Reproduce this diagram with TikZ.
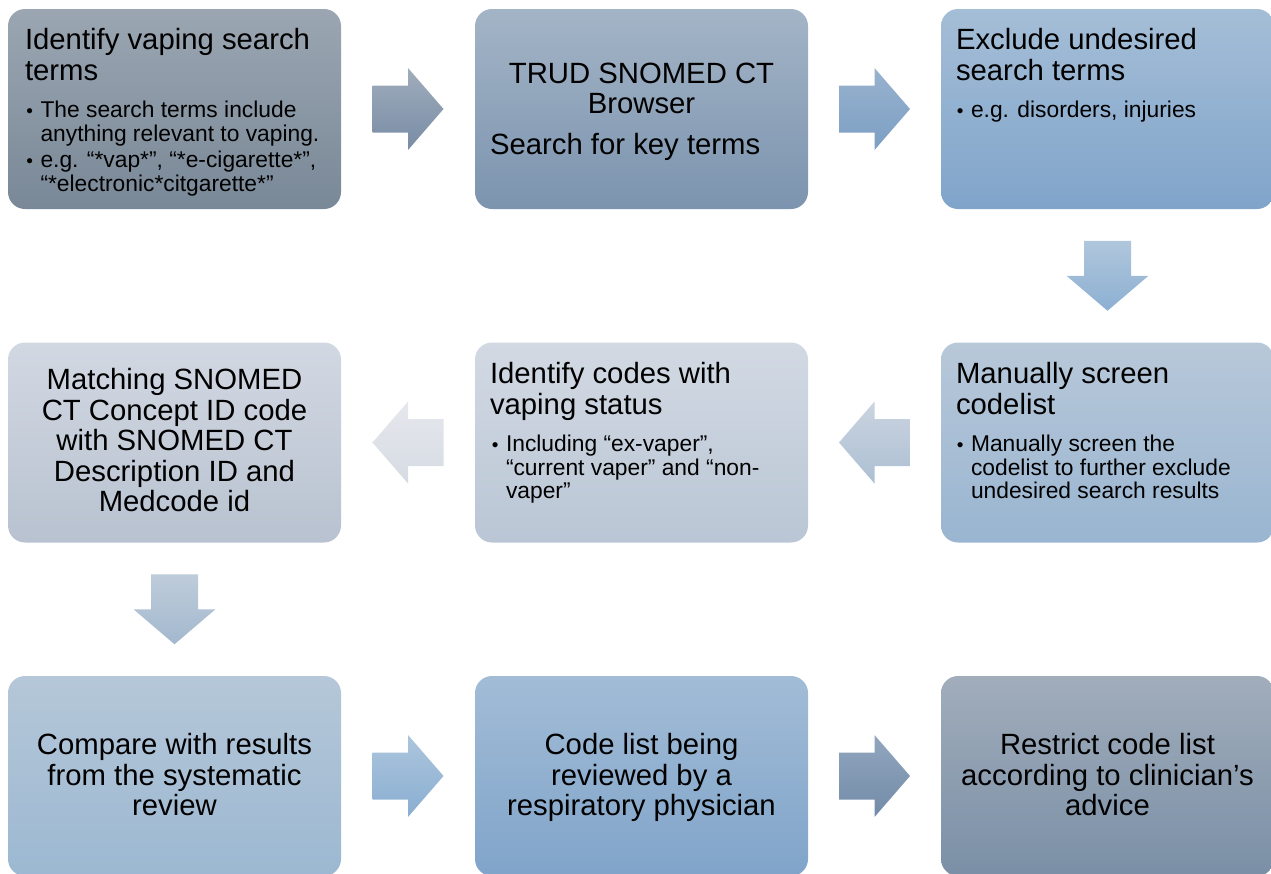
\documentclass[tikz,border=0pt]{standalone}
\usepackage{fontspec}
\setmainfont{Liberation Sans}
\usetikzlibrary{calc}
\newcommand\TLft[1]{\vtop{\lineskiplimit -100pt\relax\halign{##\hfil\cr#1\crcr}}}
\newcommand\TCtr[1]{\vtop{\lineskiplimit -100pt\relax\halign{\hfil##\hfil\cr#1\crcr}}}
\newcommand\bul{\llap{{\fontsize{19}{19}\selectfont\textbullet}\hspace{7.5pt}}}
\newcommand\FTitle{\fontsize{29.3}{30.4}\selectfont}
\newcommand\FBul{\fontsize{22.8}{23.5}\selectfont}
% box colours
\definecolor{b1t}{RGB}{155,166,178}\definecolor{b1b}{RGB}{121,136,151}
\definecolor{b2t}{RGB}{163,180,198}\definecolor{b2b}{RGB}{124,148,175}
\definecolor{b3t}{RGB}{165,190,215}\definecolor{b3b}{RGB}{128,164,202}
\definecolor{b4t}{RGB}{210,216,226}\definecolor{b4b}{RGB}{184,194,208}
\definecolor{b5t}{RGB}{210,217,227}\definecolor{b5b}{RGB}{186,198,213}
\definecolor{b6t}{RGB}{184,200,217}\definecolor{b6b}{RGB}{153,181,209}
\definecolor{b7t}{RGB}{181,199,216}\definecolor{b7b}{RGB}{156,184,210}
\definecolor{b8t}{RGB}{162,188,214}\definecolor{b8b}{RGB}{128,164,202}
\definecolor{b9t}{RGB}{161,173,187}\definecolor{b9b}{RGB}{122,143,166}
% arrow colours
\definecolor{a1t}{RGB}{160,173,188}\definecolor{a1b}{RGB}{120,140,165}
\definecolor{a2t}{RGB}{152,178,206}\definecolor{a2b}{RGB}{124,159,195}
\definecolor{a3t}{RGB}{176,198,220}\definecolor{a3b}{RGB}{140,176,210}
\definecolor{a4t}{RGB}{203,212,224}\definecolor{a4b}{RGB}{172,191,211}
\definecolor{a5t}{RGB}{229,232,237}\definecolor{a5b}{RGB}{214,219,227}
\definecolor{a6t}{RGB}{190,204,218}\definecolor{a6b}{RGB}{163,184,206}
\definecolor{a7t}{RGB}{172,197,221}\definecolor{a7b}{RGB}{138,174,209}
\definecolor{a8t}{RGB}{146,166,190}\definecolor{a8b}{RGB}{114,139,168}
\newcommand\ArrR[3]{\shade[top color=#2,bottom color=#3,shift={(#1)}]
  (-35.5,-23.5) -- (0,-23.5) -- (0,-41) -- (35.5,0) -- (0,41) -- (0,23.5) -- (-35.5,23.5) -- cycle;}
\newcommand\ArrL[3]{\shade[top color=#2,bottom color=#3,shift={(#1)}]
  (35.5,-23.5) -- (0,-23.5) -- (0,-41) -- (-35.5,0) -- (0,41) -- (0,23.5) -- (35.5,23.5) -- cycle;}
\newcommand\ArrD[3]{\shade[top color=#2,bottom color=#3,shift={(#1)}]
  (-23.5,-35) -- (23.5,-35) -- (23.5,0) -- (41,0) -- (0,35) -- (-41,0) -- (-23.5,0) -- cycle;}
\begin{document}
\begin{tikzpicture}[x=1pt,y=-1pt,
  box/.style={rectangle, rounded corners=17pt, minimum width=333pt, minimum height=200pt, inner sep=0pt, draw=none},
  ttl/.style={font=\FTitle, inner sep=0pt, anchor=base west},
  ctr/.style={font=\FTitle, inner sep=0pt, anchor=base},
  bl/.style={font=\FBul, inner sep=0pt, anchor=base west}]
\useasboundingbox (0,0) rectangle (1271,873);
\clip (0,0) rectangle (1271,873);
% boxes
\node[box, top color=b1t, bottom color=b1b] (b1) at (174.5,109) {};
\node[box, top color=b2t, bottom color=b2b] (b2) at (641.5,109) {};
\node[box, top color=b3t, bottom color=b3b] (b3) at (1107.5,109) {};
\node[box, top color=b4t, bottom color=b4b] (b4) at (174.5,442.5) {};
\node[box, top color=b5t, bottom color=b5b] (b5) at (641.5,442.5) {};
\node[box, top color=b6t, bottom color=b6b] (b6) at (1107.5,442.5) {};
\node[box, top color=b7t, bottom color=b7b] (b7) at (174.5,776) {};
\node[box, top color=b8t, bottom color=b8b] (b8) at (641.5,776) {};
\node[box, top color=b9t, bottom color=b9b] (b9) at (1107.5,776) {};
% arrows
\coordinate (a12) at ($(b1.east)!0.5!(b2.west)$);
\coordinate (a23) at ($(b2.east)!0.5!(b3.west)$);
\coordinate (a36) at ($(b3.south)!0.5!(b6.north)$);
\coordinate (a65) at ($(b6.west)!0.5!(b5.east)$);
\coordinate (a54) at ($(b5.west)!0.5!(b4.east)$);
\coordinate (a47) at ($(b4.south)!0.5!(b7.north)$);
\coordinate (a78) at ($(b7.east)!0.5!(b8.west)$);
\coordinate (a89) at ($(b8.east)!0.5!(b9.west)$);
\ArrR{a12}{a1t}{a1b}
\ArrR{a23}{a2t}{a2b}
\ArrD{a36}{a3t}{a3b}
\ArrL{a65}{a4t}{a4b}
\ArrL{a54}{a5t}{a5b}
\ArrD{a47}{a6t}{a6b}
\ArrR{a78}{a7t}{a7b}
\ArrR{a89}{a8t}{a8b}
% box 1
\node[ttl] (t1) at ($(b1.north west)+(17,41)$) {\TLft{Identify vaping search\cr terms}};
\node[bl] (t1a) at ($(b1.north west)+(32.5,109)$) {\TLft{\bul The search terms include\cr anything relevant to vaping.}};
\node[bl] (t1b) at ($(b1.north west)+(32.5,159)$) {\TLft{\bul e.g. “*vap*”, “*e-cigarette*”,\cr “*electronic*citgarette*”}};
% box 2
\node[ctr] (t2) at ($(b2.north)+(0,74.3)$) {\TCtr{TRUD SNOMED CT\cr Browser}};
\node[ttl] (t2a) at ($(b2.north west)+(15,146)$) {Search for key terms};
% box 3
\node[ttl] (t3) at ($(b3.north west)+(15,41)$) {\TLft{Exclude undesired\cr search terms}};
\node[bl] (t3a) at ($(b3.north west)+(30,109)$) {\TLft{\bul e.g. disorders, injuries}};
% box 4
\node[ctr] (t4) at ($(b4.north)+(0,47.5)$) {\TCtr{Matching SNOMED\cr CT Concept ID code\cr with SNOMED CT\cr Description ID and\cr Medcode id}};
% box 5
\node[ttl] (t5) at ($(b5.north west)+(15,41.5)$) {\TLft{Identify codes with\cr vaping status}};
\node[bl] (t5a) at ($(b5.north west)+(31,109.5)$) {\TLft{\bul Including “ex-vaper”,\cr “current vaper” and “non-\cr vaper”}};
% box 6
\node[ttl] (t6) at ($(b6.north west)+(15,41.5)$) {\TLft{Manually screen\cr codelist}};
\node[bl] (t6a) at ($(b6.north west)+(30,109.5)$) {\TLft{\bul Manually screen the\cr codelist to further exclude\cr undesired search results}};
% row 3
\node[ctr] (t7) at ($(b7.north)+(0,79)$) {\TCtr{Compare with results\cr from the systematic\cr review}};
\node[ctr] (t8) at ($(b8.north)+(0,79)$) {\TCtr{Code list being\cr reviewed by a\cr respiratory physician}};
\node[ctr] (t9) at ($(b9.north)+(0,79)$) {\TCtr{Restrict code list\cr according to clinician’s\cr advice}};
\end{tikzpicture}
\end{document}
